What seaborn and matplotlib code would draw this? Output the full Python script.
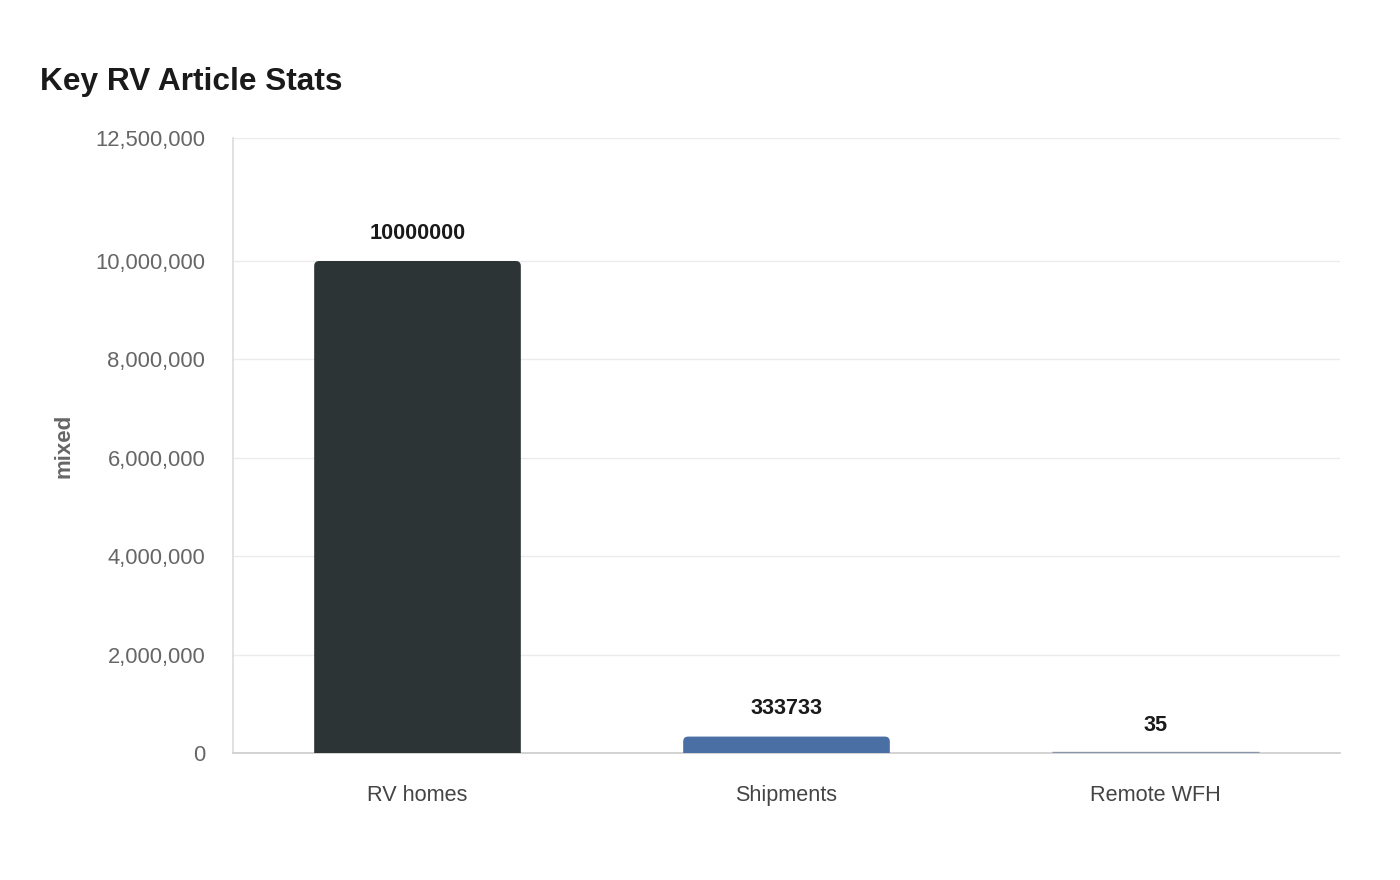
import matplotlib
matplotlib.use("Agg")
import matplotlib.pyplot as plt
import seaborn as sns
import pandas as pd
from matplotlib.ticker import FuncFormatter
from matplotlib.patches import FancyBboxPatch

categories = ["RV homes", "Shipments", "Remote WFH"]
values = [10000000, 333733, 35]
bar_colors = ["#2d3436", "#4a6fa5", "#8796ab"]
y_ticks = [0, 2000000, 4000000, 6000000, 8000000, 10000000, 12500000]

sns.set_theme(style="white")
plt.rcParams['font.family'] = ['Liberation Sans', 'DejaVu Sans']

df = pd.DataFrame({"category": categories, "value": values})

fig = plt.figure(figsize=(14, 8.8), dpi=100)
ax = fig.add_axes([233/1400, 1-753/880, (1340-233)/1400, (753-138)/880])

sns.barplot(data=df, x="category", y="value", hue="category", palette=bar_colors,
            width=0.56, ax=ax, legend=False, saturation=1)

ax.set_xlim(-0.5, 2.5)
ax.set_ylim(0, 12500000)

# round the top corners of bars (approx 5 px radius)
x_per_px = 3.0 / 1107
y_per_px = 12500000 / 615
r_px = 5
for p, c in zip(list(ax.patches), bar_colors):
    x0, y0, w, h = p.get_x(), p.get_y(), p.get_width(), p.get_height()
    if h / y_per_px > 2 * r_px:
        p.set_visible(False)
        fb = FancyBboxPatch((x0, y0 - r_px * y_per_px), w, h + r_px * y_per_px,
                            boxstyle=f"round,pad=0,rounding_size={r_px * x_per_px}",
                            mutation_aspect=y_per_px / x_per_px,
                            facecolor=c, edgecolor="none", zorder=3, clip_on=True)
        ax.add_patch(fb)
    else:
        p.set_edgecolor(c)
        p.set_linewidth(2.4)
        p.set_zorder(3)

ax.set_yticks(y_ticks)
ax.yaxis.set_major_formatter(FuncFormatter(lambda v, _: f"{int(v):,}"))
ax.grid(axis="y", color="#ebebeb", linewidth=1)
ax.set_axisbelow(True)

for s in ["top", "right"]:
    ax.spines[s].set_visible(False)
ax.spines["left"].set_color("#dddddd")
ax.spines["bottom"].set_color("#cccccc")
ax.spines["bottom"].set_linewidth(1.2)

ax.tick_params(axis="y", length=11, color="#ebebeb", pad=9, labelsize=15.8, labelcolor="#666666")
ax.tick_params(axis="x", length=0, pad=23, labelsize=15.6, labelcolor="#444444")

ax.set_xlabel("")
ax.set_ylabel("mixed", fontsize=16, fontweight="bold", color="#666666", labelpad=15)

for i, v in enumerate(values):
    ax.annotate(str(v), (i, v), xytext=(0, 20), textcoords="offset points",
                ha="center", va="center", fontsize=15.6, fontweight="bold", color="#1a1a1a")

fig.text(40/1400, 1-82/880, "Key RV Article Stats", fontsize=22.8, fontweight="bold",
         color="#1a1a1a", ha="left", va="center")

fig.savefig("out.png", dpi=100)
